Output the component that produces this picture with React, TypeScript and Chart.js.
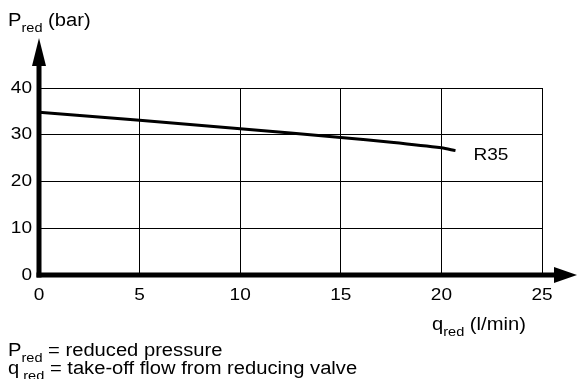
import React, { useEffect, useRef } from "react";
import { Chart, registerables } from "chart.js";

Chart.register(...registerables);

const flowValues = [0, 5, 10, 15, 17.5, 20, 20.7];
const pressureValues = [34.8, 33.1, 31.3, 29.4, 28.4, 27.2, 26.6];
const seriesLabel = "R35";
const xMin = 0, xMax = 25, xStep = 5;
const yMin = 0, yMax = 40, yStep = 10;
const yTitle = ["P", "red", " (bar)"];
const xTitle = ["q", "red", " (l/min)"];
const note1 = ["P", "red", " = reduced pressure"];
const note2 = ["q", " red", " = take-off flow from reducing valve"];

const FONT = "Liberation Sans, Arial, Helvetica, sans-serif";
const STRETCH = 1.12;
const BIG = 18;
const TICK = 17;
const SMALL = 13;

function txt(ctx: CanvasRenderingContext2D, s: string, x: number, y: number, size: number, align: CanvasTextAlign = "left", base: CanvasTextBaseline = "alphabetic") {
  ctx.save();
  ctx.font = `${size}px ${FONT}`;
  ctx.textAlign = align;
  ctx.textBaseline = base;
  ctx.fillStyle = "#000";
  ctx.translate(x, y);
  ctx.scale(STRETCH, 1);
  ctx.fillText(s, 0, 0);
  const w = ctx.measureText(s).width * STRETCH;
  ctx.restore();
  return w;
}

function drawSub(ctx: CanvasRenderingContext2D, x: number, y: number, parts: string[]) {
  let cx = x;
  cx += txt(ctx, parts[0], cx, y, BIG);
  cx += txt(ctx, parts[1], cx, y + 6, SMALL);
  txt(ctx, parts[2], cx, y, BIG);
}

const overlay = {
  id: "overlay",
  afterDraw(chart: any) {
    const ctx: CanvasRenderingContext2D = chart.ctx;
    const xs = chart.scales.x;
    const ys = chart.scales.y;
    const x0 = xs.getPixelForValue(xMin);
    const y0 = ys.getPixelForValue(yMin);
    ctx.save();
    ctx.fillStyle = "#000";
    ctx.strokeStyle = "#000";
    ctx.lineWidth = 5;
    ctx.lineCap = "butt";
    // y axis
    ctx.beginPath();
    ctx.moveTo(x0, y0 + 2.5);
    ctx.lineTo(x0, 62);
    ctx.stroke();
    ctx.beginPath();
    ctx.moveTo(x0, 38);
    ctx.lineTo(x0 - 7, 66);
    ctx.lineTo(x0 + 7, 66);
    ctx.closePath();
    ctx.fill();
    // x axis
    ctx.beginPath();
    ctx.moveTo(x0 - 2.5, y0);
    ctx.lineTo(558, y0);
    ctx.stroke();
    ctx.beginPath();
    ctx.moveTo(577, y0);
    ctx.lineTo(554, y0 - 8);
    ctx.lineTo(554, y0 + 8);
    ctx.closePath();
    ctx.fill();
    ctx.restore();

    // tick labels from the scales
    xs.ticks.forEach((t: any) => {
      txt(ctx, String(t.label), xs.getPixelForValue(t.value), y0 + 20, TICK, "center", "middle");
    });
    ys.ticks.forEach((t: any) => {
      txt(ctx, String(t.label), x0 - 7, ys.getPixelForValue(t.value), TICK, "right", "middle");
    });

    // titles and notes
    drawSub(ctx, 8, 26, yTitle);
    drawSub(ctx, 432, 330, xTitle);
    drawSub(ctx, 8, 356, note1);
    drawSub(ctx, 8, 374, note2);

    // series label
    const meta = chart.getDatasetMeta(0);
    const last = meta.data[meta.data.length - 1];
    txt(ctx, seriesLabel, last.x + 18, last.y + 5, TICK, "left", "middle");
  },
};

export default function App() {
  const ref = useRef<HTMLCanvasElement>(null);
  useEffect(() => {
    if (!ref.current) return;
    const chart = new Chart(ref.current, {
      type: "line",
      data: {
        datasets: [
          {
            label: seriesLabel,
            data: flowValues.map((x, i) => ({ x, y: pressureValues[i] })),
            borderColor: "#000",
            borderWidth: 3,
            pointRadius: 0,
            tension: 0.3,
            fill: false,
          },
        ],
      },
      options: {
        responsive: false,
        animation: false,
        layout: { padding: { top: 88, right: 35, left: 0, bottom: 0 } },
        plugins: { legend: { display: false }, tooltip: { enabled: false } },
        scales: {
          x: {
            type: "linear",
            min: xMin,
            max: xMax,
            afterFit: (s: any) => { s.height = 104; },
            ticks: { stepSize: xStep, display: false },
            grid: { color: "#000", lineWidth: 1, drawTicks: false },
            border: { display: false },
          },
          y: {
            type: "linear",
            min: yMin,
            max: yMax,
            afterFit: (s: any) => { s.width = 39; },
            ticks: { stepSize: yStep, display: false },
            grid: { color: "#000", lineWidth: 1, drawTicks: false },
            border: { display: false },
          },
        },
      },
      plugins: [overlay],
    } as any);
    return () => chart.destroy();
  }, []);
  return (
    <div style={{ position: "absolute", left: 0, top: 0, width: 577, height: 379, background: "#fff" }}>
      <canvas ref={ref} width={577} height={379} style={{ display: "block" }} />
    </div>
  );
}
